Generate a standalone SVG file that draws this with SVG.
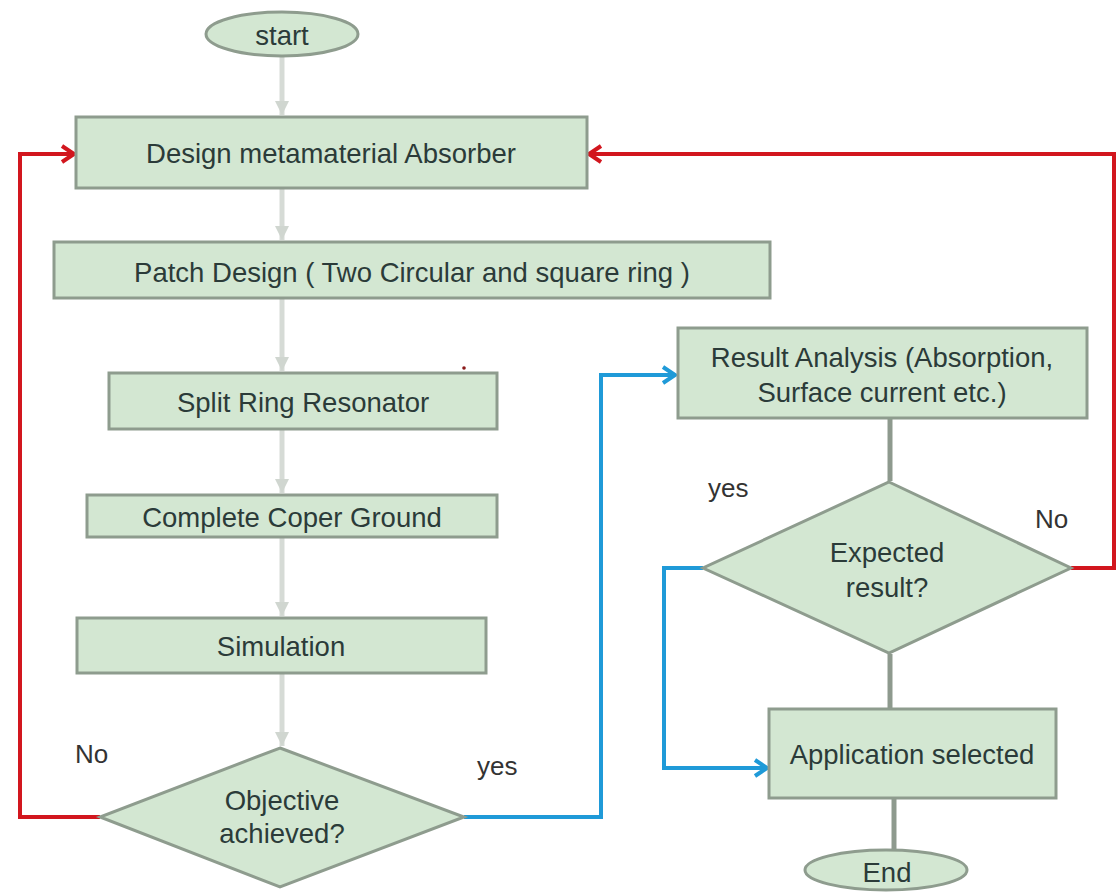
<svg xmlns="http://www.w3.org/2000/svg" width="1116" height="892" viewBox="0 0 1116 892">
<style>
.box{fill:#d3e7d2;stroke:#8e9c8e;stroke-width:3}
.t{font-family:"Liberation Sans",Arial,sans-serif;font-size:27.5px;fill:#2b3b39;text-anchor:middle}
.lbl{font-family:"Liberation Sans",Arial,sans-serif;font-size:26px;fill:#333}
.lg{fill:none;stroke:#d6dbd6;stroke-width:5}
.dg{fill:none;stroke:#8e9a8e;stroke-width:5}
.red{fill:none;stroke:#d2161e;stroke-width:4}
.blue{fill:none;stroke:#1f9ad8;stroke-width:4}
</style>
<defs>
<marker id="ahL" markerUnits="userSpaceOnUse" markerWidth="16" markerHeight="14" refX="14" refY="7" orient="auto"><path d="M0,0 L14,7 L0,14 Z" fill="#d0d6d0"/></marker>
<marker id="ahR" markerUnits="userSpaceOnUse" markerWidth="20" markerHeight="20" refX="16" refY="10" orient="auto"><path d="M4,2 L16,10 L4,18" fill="none" stroke="#d2161e" stroke-width="4"/></marker>
<marker id="ahB" markerUnits="userSpaceOnUse" markerWidth="20" markerHeight="20" refX="16" refY="10" orient="auto"><path d="M4,2 L16,10 L4,18" fill="none" stroke="#1f9ad8" stroke-width="4"/></marker>
</defs>
<rect width="1116" height="892" fill="#ffffff"/>
<g id="connectors">
<path class="lg" d="M282,57 V115" marker-end="url(#ahL)"/>
<path class="lg" d="M282,189 V240" marker-end="url(#ahL)"/>
<path class="lg" d="M282,299 V371" marker-end="url(#ahL)"/>
<path class="lg" d="M282,430 V493" marker-end="url(#ahL)"/>
<path class="lg" d="M282,538 V616" marker-end="url(#ahL)"/>
<path class="lg" d="M282,674 V746" marker-end="url(#ahL)"/>
<path class="dg" d="M890,419 V481"/>
<path class="dg" d="M890,654 V708"/>
<path class="dg" d="M894,799 V849"/>
<path class="red" d="M100,817 H20 V154 H74" marker-end="url(#ahR)"/>
<path class="red" d="M1071,568 H1114 V154 H589" marker-end="url(#ahR)"/>
<path class="blue" d="M464,817 H601 V375 H675" marker-end="url(#ahB)"/>
<path class="blue" d="M703,568 H664 V768 H767" marker-end="url(#ahB)"/>
</g>
<g id="start"><ellipse class="box" cx="282" cy="34" rx="76" ry="22"/><text class="t" x="282" y="45">start</text></g>
<g id="design"><rect class="box" x="76" y="117" width="511" height="71"/><text class="t" x="331" y="163">Design metamaterial Absorber</text></g>
<g id="patch"><rect class="box" x="54" y="242" width="716" height="56"/><text class="t" x="412" y="282">Patch Design ( Two Circular and square ring )</text></g>
<g id="split"><rect class="box" x="109" y="373" width="388" height="56"/><text class="t" x="303" y="412">Split Ring Resonator</text></g>
<g id="ground"><rect class="box" x="87" y="495" width="410" height="42"/><text class="t" x="292" y="527">Complete Coper Ground</text></g>
<g id="simulation"><rect class="box" x="77" y="618" width="409" height="55"/><text class="t" x="281" y="656">Simulation</text></g>
<g id="objective"><polygon class="box" points="280,748 464,817 280,887 100,817"/><text class="t" x="282" y="810">Objective</text><text class="t" x="282" y="843">achieved?</text></g>
<g id="result"><rect class="box" x="678" y="328" width="409" height="90"/><text class="t" x="882" y="367">Result Analysis (Absorption,</text><text class="t" x="882" y="402">Surface current etc.)</text></g>
<g id="expected"><polygon class="box" points="889,482 1071,568 889,653 703,568"/><text class="t" x="887" y="562">Expected</text><text class="t" x="887" y="597">result?</text></g>
<g id="application"><rect class="box" x="769" y="709" width="287" height="89"/><text class="t" x="912" y="764">Application selected</text></g>
<g id="end"><ellipse class="box" cx="886" cy="870" rx="81" ry="20"/><text class="t" x="887" y="882">End</text></g>
<g id="labels">
<text class="lbl" x="75" y="763">No</text>
<text class="lbl" x="477" y="775">yes</text>
<text class="lbl" x="708" y="497">yes</text>
<text class="lbl" x="1035" y="528">No</text>
</g>
<circle cx="464" cy="368" r="1.8" fill="#8b1a1a"/>
</svg>
